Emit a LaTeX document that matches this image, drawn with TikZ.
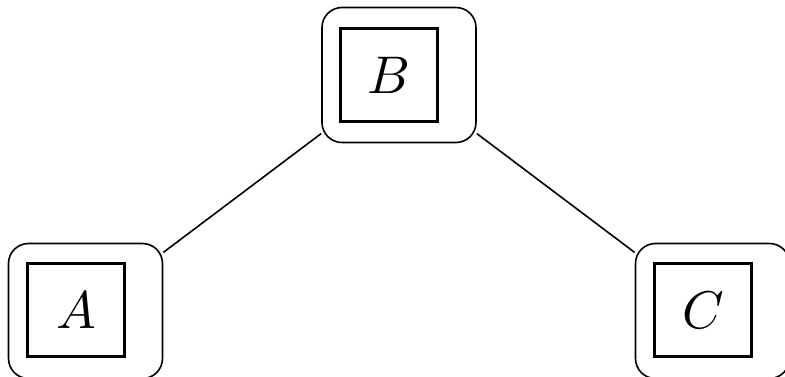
\documentclass[tikz,border=0pt]{standalone}
\begin{document}
\begin{tikzpicture}[x=1pt,y=-1pt,
  outerbox/.style={draw,rounded corners=20pt,line width=1.6pt,minimum width=154pt,minimum height=135pt,inner sep=0pt},
  innerbox/.style={draw,line width=3.2pt,minimum width=97pt,minimum height=93pt,inner sep=0pt},
  link/.style={line width=1.6pt}]
\useasboundingbox (0,0) rectangle (785,377);
\node[outerbox] (Bo) at (399,75) {};
\node[innerbox] (Bi) at (389,75) {\scalebox{5.3}{$B$}};
\node[outerbox] (Ao) at (85.5,311) {};
\node[innerbox] (Ai) at (76,310) {\scalebox{5.3}{$A$}};
\node[outerbox] (Co) at (712.5,311) {};
\node[innerbox] (Ci) at (703,310) {\scalebox{5.3}{$C$}};
\draw[link] (Bo) -- (Ao);
\draw[link] (Bo) -- (Co);
\end{tikzpicture}
\end{document}
